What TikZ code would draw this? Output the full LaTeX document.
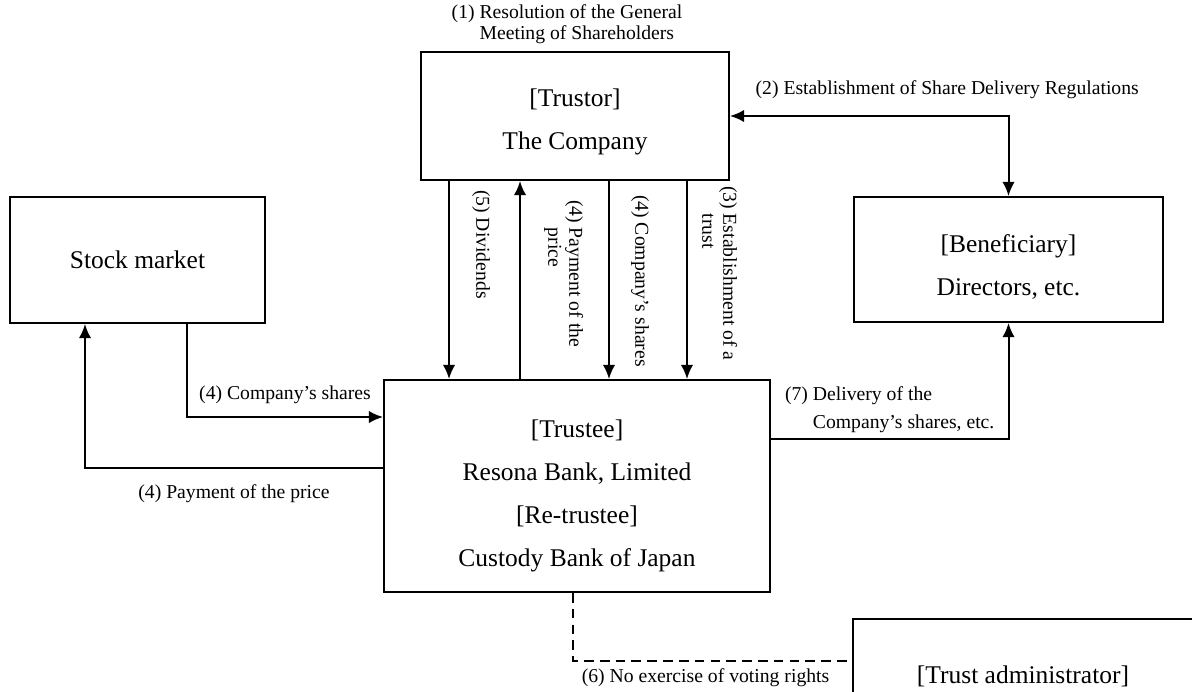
\documentclass[tikz,border=0pt]{standalone}
\usepackage{fontspec}
\setmainfont{Liberation Serif}
\usetikzlibrary{arrows.meta, positioning}
\newcommand{\toppad}[1]{\rule{0pt}{#1}}
\tikzstyle{party} = [rectangle, draw=black, line width=0.4mm, align=center,
                     font=\fontsize{14.5}{24.5}\selectfont]
\tikzstyle{arrow} = [line width=0.4mm, ->, >={Latex[length=8pt,width=7pt]}]
\tikzstyle{note} = [inner sep=1pt, font=\fontsize{11.2}{12}\selectfont, align=left]
\tikzstyle{vnote} = [note, rotate=-90, anchor=south west]

\begin{document}
\begin{tikzpicture}[x=0.02cm, y=-0.02cm]
    \useasboundingbox (0,0) rectangle (1192,691);

    %Parties
    \node (Trustor) [party, minimum width=6.16cm, minimum height=2.56cm] at (575,116) {\toppad{17pt}[Trustor]\\The Company};
    \node (Stock) [party, minimum width=5.1cm, minimum height=2.52cm] at (137.5,260) {Stock market};
    \node (Beneficiary) [party, minimum width=6.18cm, minimum height=2.5cm] at (1008.5,259.5) {\toppad{18.5pt}[Beneficiary]\\Directors, etc.};
    \node (Trustee) [party, minimum width=7.72cm, minimum height=4.24cm] at (577,486) {\toppad{21pt}[Trustee]\\Resona Bank, Limited\\{[Re-trustee]}\\Custody Bank of Japan};
    \node (Admin) [party, minimum width=6.8cm, minimum height=2.28cm] at (1023,676) {[Trust administrator]};

    %Resolution
    \node (l1) [note, above=3pt of Trustor, xshift=-0.16cm] {(1) Resolution of the General\\\phantom{(1) }Meeting of Shareholders};

    %Share Delivery Regulations
    \draw [arrow, <->] (Trustor.east) -| (Beneficiary.north) node [note, pos=0.39, above=8pt] {(2) Establishment of Share Delivery Regulations};

    %Trustor and trustee
    \coordinate (d5) at ([xshift=-2.52cm]Trustor.south);
    \coordinate (u4) at ([xshift=-1.1cm]Trustor.south);
    \coordinate (d4) at ([xshift=0.68cm]Trustor.south);
    \coordinate (d3) at ([xshift=2.24cm]Trustor.south);
    \draw [arrow] (d5) -- (d5 |- Trustee.north);
    \draw [arrow] (u4 |- Trustee.north) -- (u4);
    \draw [arrow] (d4) -- (d4 |- Trustee.north);
    \draw [arrow] (d3) -- (d3 |- Trustee.north);
    \path (d5) ++(21,7) node (l5) [vnote] {(5) Dividends};
    \path (u4) ++(22,17) node (l4a) [vnote] {(4) Payment of the\\\phantom{(4) }price};
    \path (d4) ++(20,12) node (l4b) [vnote] {(4) Company's shares};
    \path (d3) ++(9,3) node (l3) [vnote] {(3) Establishment of a\\\phantom{(3) }trust};

    %Stock market and trustee
    \draw [arrow] ([xshift=0.99cm]Stock.south) |- ([yshift=1.38cm]Trustee.west) node [note, pos=0.75, above=6pt] {(4) Company's shares};
    \draw [arrow] ([yshift=0.36cm]Trustee.west) -| ([xshift=-1.05cm]Stock.south) node [note, pos=0.25, below=8pt] {(4) Payment of the price};

    %Delivery to beneficiary
    \draw [arrow] ([yshift=0.94cm]Trustee.east) -| (Beneficiary.south) node [note, pos=0.25, above=2pt] {(7) Delivery of the\\[4pt]\phantom{(7) }Company's shares, etc.};

    %Trust administrator
    \draw [line width=0.4mm, dash pattern=on 5.5pt off 3.5pt] ([xshift=-0.08cm]Trustee.south) |- ([yshift=0.3cm]Admin.west) node [note, pos=0.75, below=3pt, xshift=-0.14cm] {(6) No exercise of voting rights};

\end{tikzpicture}
\end{document}
